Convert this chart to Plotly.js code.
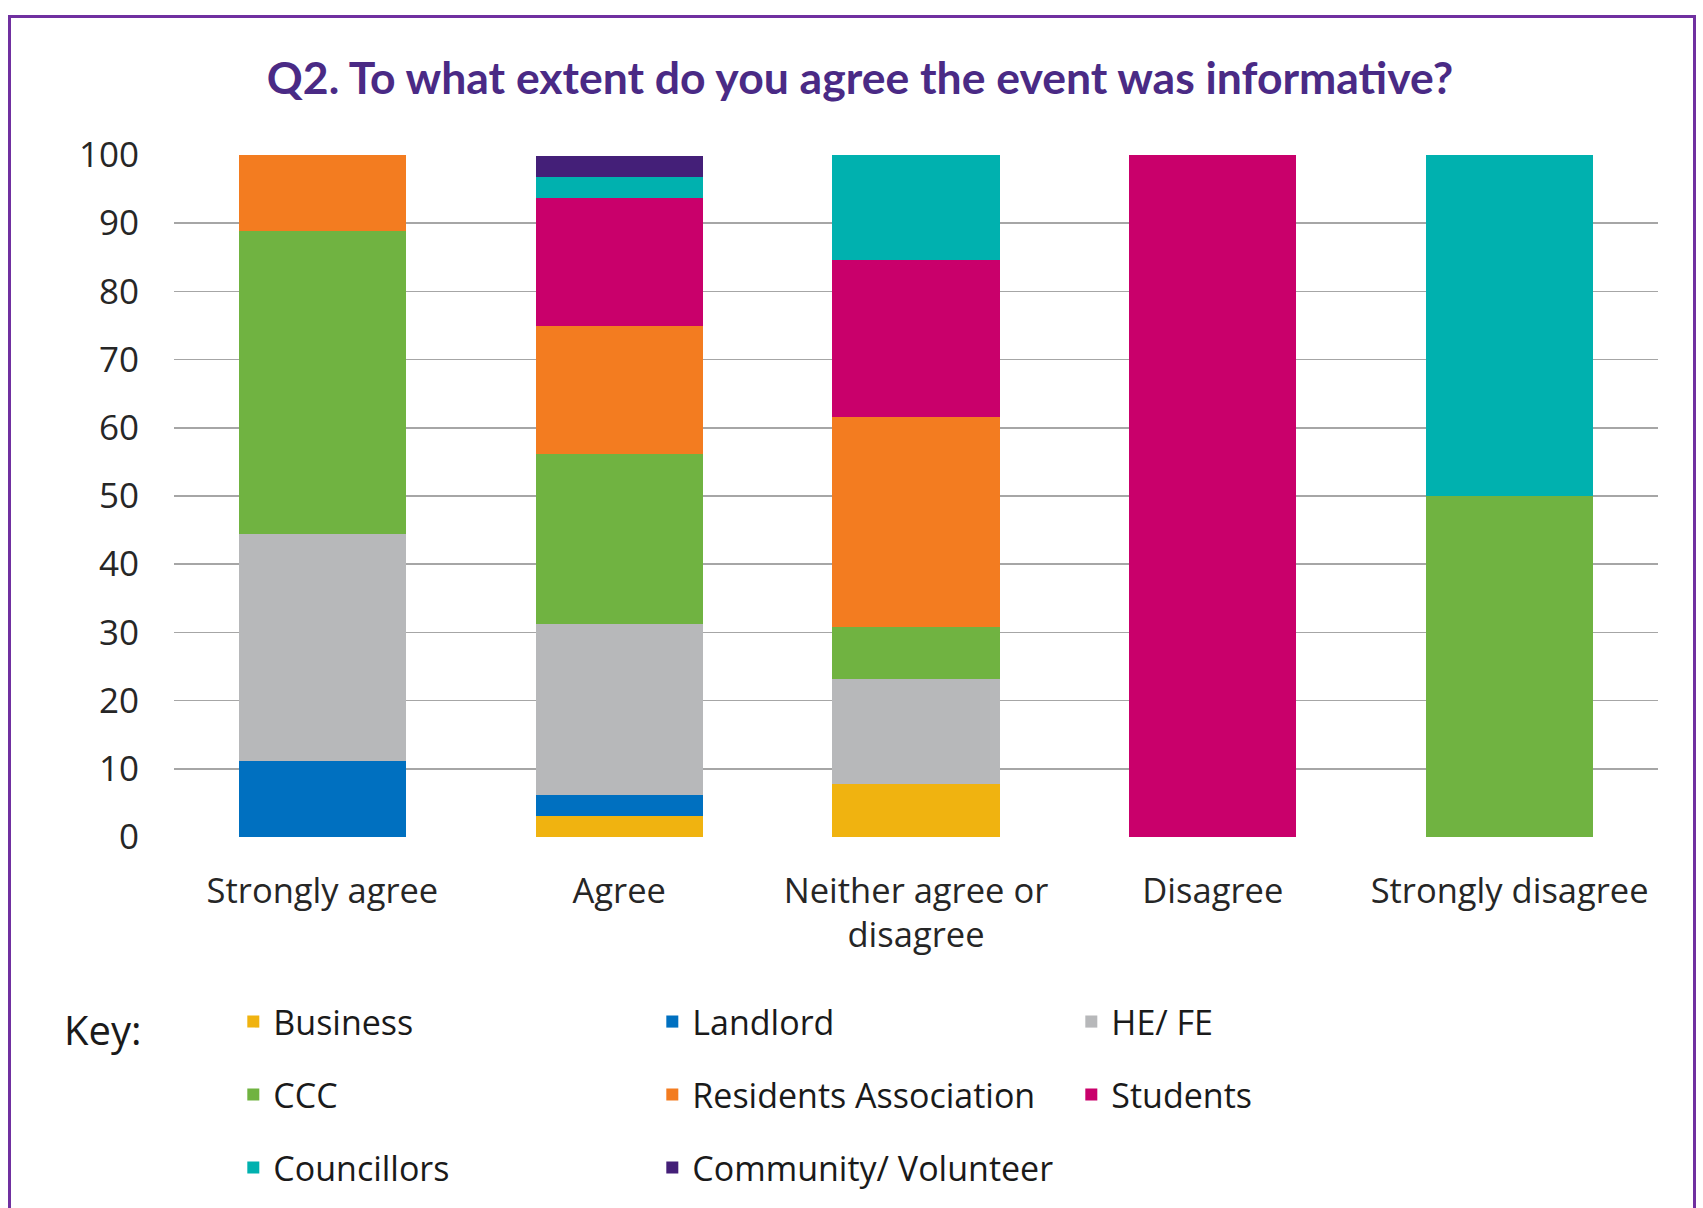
<!DOCTYPE html>
<html>
<head>
<meta charset="utf-8">
<script src="https://cdn.plot.ly/plotly-3.0.1.min.js"></script>
<style>
  html, body { margin: 0; padding: 0; background: #ffffff; }
  #wrap { position: relative; width: 1703px; height: 1208px; overflow: hidden; }
  #chart { position: absolute; left: 0; top: 0; width: 1703px; height: 1208px; }
  #frame { position: absolute; left: 8px; top: 15px; width: 1688px; height: 1220px;
           border: 3px solid #7030A0; pointer-events: none; box-sizing: border-box; }
</style>
</head>
<body>
<div id="wrap">
  <div id="chart"></div>
  <div id="frame"></div>
</div>
<script>
// Categories (x axis)
const categories = ['Strongly agree', 'Agree', 'Neither agree or<br>disagree', 'Disagree', 'Strongly disagree'];

// Series values (% of respondents per answer), bottom to top of each stack
const business    = [0,    3.1,  7.7,  0,   0];
const landlord    = [11.1, 3.1,  0,    0,   0];
const heFe        = [33.3, 25.0, 15.4, 0,   0];
const ccc         = [44.4, 25.0, 7.7,  0,   50];
const residents   = [11.2, 18.8, 30.8, 0,   0];
const students    = [0,    18.7, 23.0, 100, 0];
const councillors = [0,    3.1,  15.4, 0,   50];
const community   = [0,    3.1,  0,    0,   0];

// Legend labels
const seriesNames = ['Business', 'Landlord', 'HE/ FE', 'CCC', 'Residents Association', 'Students', 'Councillors', 'Community/ Volunteer'];
const seriesValues = [business, landlord, heFe, ccc, residents, students, councillors, community];
const seriesColors = ['#F0B310', '#0070C0', '#B7B8BA', '#70B341', '#F37C20', '#C9006B', '#00B1AF', '#441F78'];
const seriesLegend = ['legend', 'legend', 'legend', 'legend2', 'legend2', 'legend2', 'legend3', 'legend3'];

// Y tick values
const yTicks = [0, 10, 20, 30, 40, 50, 60, 70, 80, 90, 100];

const FONT = '"Open Sans", "Noto Sans", sans-serif';

const traces = seriesNames.map((name, i) => ({
  type: 'bar',
  name: name,
  x: categories,
  y: seriesValues[i],
  marker: { color: seriesColors[i], line: { width: 0 } },
  legend: seriesLegend[i],
  hoverinfo: 'skip'
}));

const legendBase = {
  orientation: 'h',
  xref: 'container',
  yref: 'container',
  x: 0.137,
  xanchor: 'left',
  yanchor: 'middle',
  entrywidth: 374,
  entrywidthmode: 'pixels',
  font: { family: FONT, size: 34, color: '#1a1a1a' },
  bgcolor: 'rgba(0,0,0,0)',
  borderwidth: 0,
  traceorder: 'normal'
};

const layout = {
  width: 1703,
  height: 1208,
  paper_bgcolor: '#ffffff',
  plot_bgcolor: '#ffffff',
  margin: { l: 174, r: 45, t: 155, b: 371, pad: 0 },
  barmode: 'stack',
  bargap: 0.437,
  title: {
    text: '<b>Q2. To what extent do you agree the event was informative?</b>',
    font: { family: 'Lato, "Open Sans", sans-serif', size: 44.5, color: '#4A2A85' },
    x: 0.505,
    xanchor: 'center',
    xref: 'container',
    y: 0.935,
    yanchor: 'middle',
    yref: 'container'
  },
  xaxis: {
    type: 'category',
    showgrid: false,
    showline: false,
    zeroline: false,
    ticks: '',
    tickfont: { family: FONT, size: 34.5, color: '#262626' },
    ticklabelstandoff: 30
  },
  yaxis: {
    range: [0, 100],
    tickvals: yTicks,
    ticktext: yTicks.map(String),
    showgrid: true,
    gridcolor: '#A6A6A6',
    gridwidth: 1.6,
    zeroline: false,
    showline: false,
    ticks: '',
    tickfont: { family: FONT, size: 35, color: '#262626' },
    ticklabelstandoff: 34,
    fixedrange: true
  },
  legend:  Object.assign({}, legendBase, { y: 1 - 1022 / 1208 }),
  legend2: Object.assign({}, legendBase, { y: 1 - 1095 / 1208 }),
  legend3: Object.assign({}, legendBase, { y: 1 - 1168 / 1208 }),
  annotations: [{
    text: 'Key:',
    xref: 'paper',
    yref: 'paper',
    x: (62 - 174) / 1484,
    xanchor: 'left',
    y: (837 - 1029) / 682,
    yanchor: 'middle',
    showarrow: false,
    font: { family: FONT, size: 40, color: '#1a1a1a' }
  }],
  showlegend: true
};

Plotly.newPlot('chart', traces, layout, { displayModeBar: false, staticPlot: true });
</script>
</body>
</html>
